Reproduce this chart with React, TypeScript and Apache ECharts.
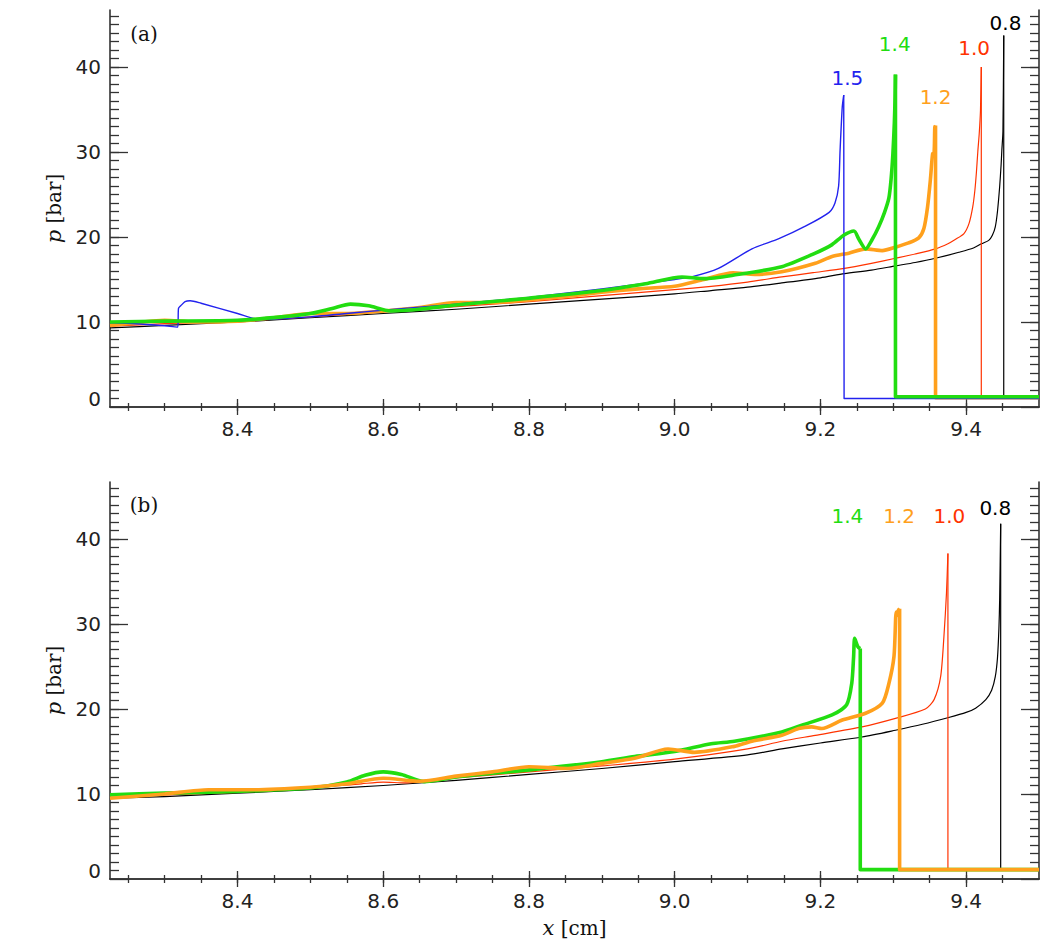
import React, { useEffect, useRef } from "react";
import * as echarts from "echarts";

// Axis ranges and tick positions
const X_MIN = 8.225;
const X_MAX = 9.5;
const P_MIN = 0;
const P_MAX = 46.7;
const xMajorTicks = [8.4, 8.6, 8.8, 9.0, 9.2, 9.4];
const xMinorTicks = Array.from({ length: 25 }, (_, i) => +(8.25 + i * 0.05).toFixed(2));
const pMajorTicks = [0, 10, 20, 30, 40];
const pMinorTicks = Array.from({ length: 46 }, (_, i) => i + 1);

// Panel (a): pressure profiles [x (cm), p (bar)]
const a08: number[][] = [
  [8.225, 9.3], [8.3, 9.6], [8.4, 10.0], [8.5, 10.5], [8.6, 11.0], [8.7, 11.5], [8.8, 12.1],
  [8.9, 12.7], [9.0, 13.3], [9.05, 13.7], [9.1, 14.1], [9.147, 14.6], [9.2, 15.2], [9.233, 15.7],
  [9.27, 16.1], [9.303, 16.6], [9.33, 17.0], [9.358, 17.5], [9.39, 18.2], [9.41, 18.7],
  [9.421, 19.2], [9.431, 19.6], [9.436, 20.2], [9.44, 21.2], [9.443, 23.0], [9.446, 25.9],
  [9.448, 28.5], [9.449, 30.2], [9.4505, 32.4], [9.4516, 43.7], [9.4516, 1.1], [9.5, 1.1],
];
const a10: number[][] = [
  [8.225, 9.5], [8.3, 9.8], [8.4, 10.1], [8.5, 10.6], [8.6, 11.2], [8.7, 11.8], [8.8, 12.4],
  [8.9, 13.1], [9.0, 13.8], [9.05, 14.2], [9.1, 14.7], [9.147, 15.3], [9.19, 15.8], [9.233, 16.3],
  [9.27, 16.9], [9.303, 17.5], [9.33, 18.0], [9.358, 18.6], [9.375, 19.2], [9.385, 19.7],
  [9.397, 20.4], [9.404, 21.6], [9.409, 23.5], [9.412, 25.5], [9.414, 27.5], [9.416, 30.0],
  [9.418, 32.2], [9.4197, 34.9], [9.4208, 40.0], [9.4208, 1.1], [9.5, 1.1],
];
const a12: number[][] = [
  [8.225, 9.6], [8.26, 9.9], [8.3, 10.2], [8.34, 10.0], [8.4, 10.1], [8.45, 10.5], [8.5, 11.0],
  [8.55, 11.0], [8.6, 11.3], [8.65, 11.7], [8.7, 12.3], [8.75, 12.3], [8.8, 12.6], [8.85, 13.0],
  [8.9, 13.5], [8.95, 13.9], [9.0, 14.2], [9.04, 15.0], [9.08, 15.8], [9.11, 15.6], [9.147, 15.9],
  [9.193, 16.9], [9.216, 17.7], [9.239, 18.1], [9.262, 18.6], [9.285, 18.4], [9.303, 18.8],
  [9.321, 19.3], [9.335, 19.9], [9.342, 21.0], [9.347, 23.5], [9.351, 26.8], [9.354, 29.8],
  [9.356, 29.9], [9.357, 32.9], [9.358, 33.1], [9.358, 1.1], [9.5, 1.1],
];
const a14: number[][] = [
  [8.225, 10.0], [8.3, 10.1], [8.4, 10.2], [8.46, 10.6], [8.5, 11.0], [8.53, 11.6], [8.555, 12.1],
  [8.58, 11.9], [8.61, 11.3], [8.65, 11.5], [8.7, 12.0], [8.8, 12.8], [8.9, 13.7], [8.96, 14.5],
  [9.01, 15.3], [9.04, 15.1], [9.08, 15.5], [9.147, 16.5], [9.193, 18.1], [9.216, 19.1],
  [9.232, 20.2], [9.246, 20.7], [9.253, 19.7], [9.262, 18.6], [9.271, 19.7], [9.28, 21.2],
  [9.288, 22.9], [9.294, 24.6], [9.297, 26.8], [9.2995, 29.8], [9.3015, 33.5], [9.3025, 36.5],
  [9.303, 39.1], [9.303, 1.2], [9.5, 1.2],
];
const a15: number[][] = [
  [8.225, 9.9], [8.26, 9.8], [8.3, 9.55], [8.318, 9.4], [8.319, 11.6], [8.322, 11.9], [8.328, 12.4],
  [8.335, 12.5], [8.35, 12.2], [8.4, 11.0], [8.431, 10.3], [8.5, 10.6], [8.6, 11.4], [8.7, 12.1],
  [8.762, 12.6], [8.8, 12.9], [8.9, 13.9], [9.0, 15.0], [9.023, 15.3], [9.06, 16.3], [9.106, 18.6],
  [9.143, 19.8], [9.18, 21.3], [9.212, 22.9], [9.22, 24.0], [9.225, 26.0], [9.227, 30.2],
  [9.23, 35.3], [9.232, 36.7], [9.2325, 1.0], [9.5, 1.0],
];

// Panel (b): pressure profiles [x (cm), p (bar)]
const b08: number[][] = [
  [8.225, 9.5], [8.3, 9.7], [8.4, 10.1], [8.5, 10.5], [8.6, 11.0], [8.7, 11.6], [8.8, 12.3],
  [8.9, 13.0], [9.0, 13.8], [9.1, 14.6], [9.147, 15.3], [9.2, 16.0], [9.257, 16.7], [9.303, 17.5],
  [9.34, 18.2], [9.376, 19.0], [9.4, 19.6], [9.413, 20.1], [9.427, 21.1], [9.435, 22.2],
  [9.44, 23.8], [9.443, 26.0], [9.445, 29.5], [9.446, 32.8], [9.4474, 41.8], [9.4474, 1.1], [9.5, 1.1],
];
const b10: number[][] = [
  [8.225, 9.6], [8.3, 9.9], [8.4, 10.2], [8.5, 10.7], [8.57, 11.2], [8.6, 11.4], [8.63, 11.3],
  [8.7, 11.9], [8.8, 12.6], [8.9, 13.3], [9.0, 14.1], [9.1, 15.3], [9.147, 16.2], [9.193, 16.9],
  [9.257, 17.9], [9.303, 18.9], [9.344, 20.0], [9.356, 21.1], [9.365, 23.8], [9.3695, 28.5],
  [9.373, 33.6], [9.375, 38.3], [9.375, 1.1], [9.5, 1.1],
];
const b12: number[][] = [
  [8.225, 9.5], [8.3, 10.0], [8.36, 10.5], [8.42, 10.5], [8.5, 10.8], [8.55, 11.2], [8.6, 11.85],
  [8.65, 11.5], [8.7, 12.1], [8.75, 12.6], [8.8, 13.2], [8.853, 13.0], [8.9, 13.6], [8.945, 14.2],
  [8.991, 15.3], [9.027, 14.9], [9.082, 15.6], [9.106, 16.2], [9.147, 16.9], [9.17, 17.7],
  [9.188, 17.9], [9.202, 17.7], [9.23, 18.7], [9.262, 19.5], [9.285, 20.7], [9.294, 23.0],
  [9.301, 26.2], [9.304, 31.4], [9.3055, 31.0], [9.307, 31.6], [9.3087, 31.8], [9.3087, 1.1], [9.5, 1.1],
];
const b14: number[][] = [
  [8.225, 9.9], [8.3, 10.1], [8.4, 10.3], [8.5, 10.7], [8.55, 11.4], [8.575, 12.2], [8.6, 12.6],
  [8.625, 12.3], [8.656, 11.45], [8.7, 12.0], [8.807, 12.9], [8.9, 13.8], [8.945, 14.4], [9.0, 15.0],
  [9.05, 15.9], [9.082, 16.2], [9.147, 17.3], [9.1745, 18.1], [9.216, 19.3], [9.236, 20.5],
  [9.243, 23.0], [9.2456, 26.2], [9.247, 28.3], [9.2515, 27.3], [9.2547, 27.1], [9.2547, 1.1], [9.5, 1.1],
];

// Curve tags: [text, x, p]
const tagsA: [string, number, number][] = [
  ["0.8", 9.454, 45.2], ["1.0", 9.411, 42.2], ["1.2", 9.358, 36.5], ["1.4", 9.302, 42.7], ["1.5", 9.237, 38.7],
];
const tagsB: [string, number, number][] = [
  ["0.8", 9.44, 43.7], ["1.0", 9.377, 42.7], ["1.2", 9.308, 42.7], ["1.4", 9.237, 42.7],
];

const BLACK = "#000000";
const RED = "#ff3300";
const ORANGE = "#ffa01c";
const GREEN = "#22dd11";
const BLUE = "#2222ee";
const AXIS = "#333333";
const SANS = '"DejaVu Sans", sans-serif';
const SERIF = '"DejaVu Serif", serif';

const GRID_LEFT = 110;
const GRID_W = 929;
const GRID_H = 397;
const GRID_TOPS = [10, 482];

function xAxes(g: number, withName: boolean) {
  const common = { gridIndex: g, type: "value", min: X_MIN, max: X_MAX, splitLine: { show: false } };
  const tickStyle = { color: AXIS, width: 1.3 };
  return [
    {
      ...common,
      position: "bottom",
      axisLine: { show: true, lineStyle: { color: AXIS, width: 1.6 } },
      axisTick: { show: true, inside: true, length: 8, customValues: xMajorTicks, lineStyle: tickStyle },
      axisLabel: {
        show: true, customValues: xMajorTicks, margin: 12,
        formatter: (v: number) => v.toFixed(1),
        fontFamily: SANS, fontSize: 20, color: "#222",
      },
      name: withName ? "{i|x} [cm]" : "",
      nameLocation: "middle",
      nameGap: 38,
      nameTextStyle: {
        fontFamily: SERIF, fontSize: 20, color: "#111",
        rich: { i: { fontFamily: SERIF, fontStyle: "italic", fontSize: 21, color: "#111" } },
      },
    },
    {
      ...common,
      position: "bottom",
      axisLine: { show: false },
      axisTick: { show: true, inside: true, length: 4, customValues: xMinorTicks, lineStyle: tickStyle },
      axisLabel: { show: false },
    },
    {
      ...common,
      position: "top",
      axisLine: { show: true, lineStyle: { color: AXIS, width: 1.6 } },
      axisTick: { show: true, inside: true, length: 8, customValues: xMajorTicks, lineStyle: tickStyle },
      axisLabel: { show: false },
    },
    {
      ...common,
      position: "top",
      axisLine: { show: false },
      axisTick: { show: true, inside: true, length: 4, customValues: xMinorTicks, lineStyle: tickStyle },
      axisLabel: { show: false },
    },
  ];
}

function yAxes(g: number) {
  const common = { gridIndex: g, type: "value", min: P_MIN, max: P_MAX, splitLine: { show: false } };
  const tickStyle = { color: AXIS, width: 1.3 };
  return [
    {
      ...common,
      position: "left",
      axisLine: { show: true, lineStyle: { color: AXIS, width: 1.6 } },
      axisTick: { show: true, inside: true, length: 18, customValues: pMajorTicks, lineStyle: tickStyle },
      axisLabel: {
        show: true, customValues: pMajorTicks, margin: 9,
        formatter: (v: number) => (v === 0 ? "{z|0}" : String(v)),
        fontFamily: SANS, fontSize: 20, color: "#222",
        rich: { z: { padding: [0, 0, 17, 0], fontFamily: SANS, fontSize: 20, color: "#222" } },
      },
      name: "{i|p} [bar]",
      nameLocation: "middle",
      nameGap: 46,
      nameRotate: 90,
      nameTextStyle: {
        fontFamily: SERIF, fontSize: 20, color: "#111",
        rich: { i: { fontFamily: SERIF, fontStyle: "italic", fontSize: 21, color: "#111" } },
      },
    },
    {
      ...common,
      position: "left",
      axisLine: { show: false },
      axisTick: { show: true, inside: true, length: 9, customValues: pMinorTicks, lineStyle: tickStyle },
      axisLabel: { show: false },
    },
    {
      ...common,
      position: "right",
      axisLine: { show: true, lineStyle: { color: AXIS, width: 1.6 } },
      axisTick: { show: true, inside: true, length: 18, customValues: pMajorTicks, lineStyle: tickStyle },
      axisLabel: { show: false },
    },
    {
      ...common,
      position: "right",
      axisLine: { show: false },
      axisTick: { show: true, inside: true, length: 9, customValues: pMinorTicks, lineStyle: tickStyle },
      axisLabel: { show: false },
    },
  ];
}

// Each profile is drawn as a smooth body (up to the spike top) plus a straight
// shock front: the drop to the unshocked level and the flat run to the edge.
function profile(g: number, data: number[][], color: string, width: number, tag?: [string, number, number]) {
  const n = data.length;
  const base = {
    type: "line",
    xAxisIndex: g * 4,
    yAxisIndex: g * 4,
    symbol: "none",
    showSymbol: false,
    silent: true,
    clip: true,
    lineStyle: { color, width, cap: "butt", join: "round" },
  };
  const body: any = { ...base, data: data.slice(0, n - 2), smooth: 0.25 };
  const front: any = { ...base, data: data.slice(n - 3), smooth: false };
  if (tag) {
    body.markPoint = {
      silent: true,
      symbol: "circle",
      symbolSize: 0,
      data: [
        {
          coord: [tag[1], tag[2]],
          label: {
            show: true, position: "inside", formatter: tag[0],
            color, fontFamily: SANS, fontSize: 20,
          },
        },
      ],
    };
  }
  return [body, front];
}

export default function App() {
  const ref = useRef<HTMLDivElement>(null);

  useEffect(() => {
    if (!ref.current) return;
    const chart = echarts.init(ref.current, null, { renderer: "svg" });
    const tagA = (t: string) => tagsA.find((d) => d[0] === t);
    const tagB = (t: string) => tagsB.find((d) => d[0] === t);

    chart.setOption({
      animation: false,
      backgroundColor: "#ffffff",
      grid: GRID_TOPS.map((top) => ({ left: GRID_LEFT, top, width: GRID_W, height: GRID_H })),
      xAxis: [...xAxes(0, false), ...xAxes(1, true)],
      yAxis: [...yAxes(0), ...yAxes(1)],
      series: [
        ...profile(0, a08, BLACK, 1.2, tagA("0.8")),
        ...profile(0, a10, RED, 1.2, tagA("1.0")),
        ...profile(0, a12, ORANGE, 3.6, tagA("1.2")),
        ...profile(0, a15, BLUE, 1.4, tagA("1.5")),
        ...profile(0, a14, GREEN, 3.6, tagA("1.4")),
        ...profile(1, b08, BLACK, 1.2, tagB("0.8")),
        ...profile(1, b10, RED, 1.2, tagB("1.0")),
        ...profile(1, b14, GREEN, 3.6, tagB("1.4")),
        ...profile(1, b12, ORANGE, 3.6, tagB("1.2")),
      ],
      graphic: [
        {
          type: "text", x: 144, y: 34,
          style: { text: "(a)", align: "center", verticalAlign: "middle", font: '20px "DejaVu Serif"', fill: "#111" },
        },
        {
          type: "text", x: 144, y: 505,
          style: { text: "(b)", align: "center", verticalAlign: "middle", font: '20px "DejaVu Serif"', fill: "#111" },
        },
      ],
    });

    return () => chart.dispose();
  }, []);

  return (
    <div
      ref={ref}
      style={{ position: "absolute", left: 0, top: 0, width: 1063, height: 944, background: "#fff" }}
    />
  );
}
